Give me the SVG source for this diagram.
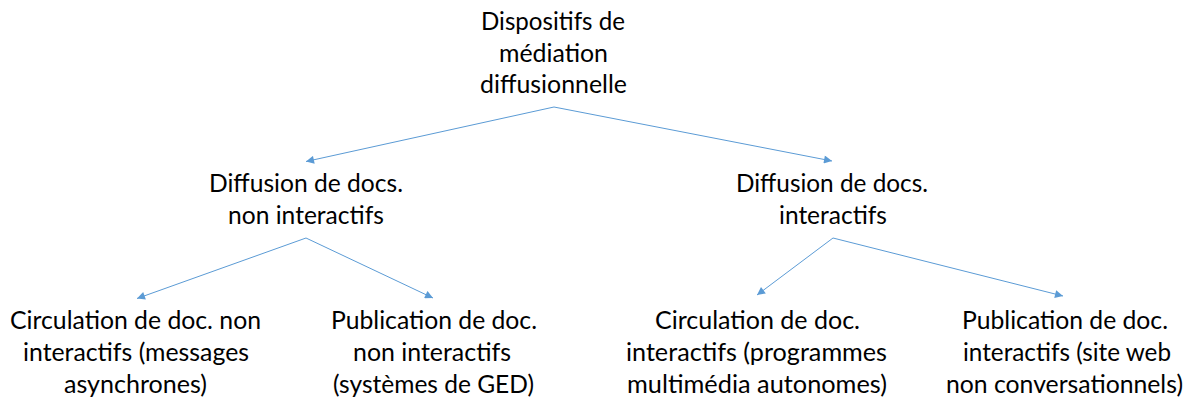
<svg xmlns="http://www.w3.org/2000/svg" width="1190" height="398" viewBox="0 0 1190 398">
<style>
text{font-family:Lato,"Open Sans","Liberation Sans",sans-serif;font-size:25px;fill:#000}
.c{stroke:#5B9BD5;stroke-width:1;fill:none}
</style>
<defs>
<marker id="ah" viewBox="0 0 10 10" refX="10" refY="5" markerWidth="9" markerHeight="8" markerUnits="userSpaceOnUse" orient="auto">
<path d="M0,0 L10,5 L0,10 z" fill="#5B9BD5"/>
</marker>
</defs>
<rect width="1190" height="398" fill="#fff"/>
<g id="connectors">
<line class="c" x1="554" y1="107" x2="306" y2="161.5" marker-end="url(#ah)"/>
<line class="c" x1="554" y1="107" x2="832" y2="161" marker-end="url(#ah)"/>
<line class="c" x1="306" y1="238" x2="137" y2="298.5" marker-end="url(#ah)"/>
<line class="c" x1="306" y1="238" x2="433" y2="298" marker-end="url(#ah)"/>
<line class="c" x1="833" y1="238" x2="757" y2="295" marker-end="url(#ah)"/>
<line class="c" x1="833" y1="238" x2="1063" y2="296" marker-end="url(#ah)"/>
</g>
<g id="root">
<text x="481" y="30" textLength="144" lengthAdjust="spacingAndGlyphs">Dispositifs de</text>
<text x="499" y="62" textLength="109" lengthAdjust="spacingAndGlyphs">médiation</text>
<text x="480" y="93" textLength="147" lengthAdjust="spacingAndGlyphs">diffusionnelle</text>
</g>
<g id="non-interactifs">
<text x="209" y="192" textLength="194" lengthAdjust="spacingAndGlyphs">Diffusion de docs.</text>
<text x="228" y="224" textLength="156" lengthAdjust="spacingAndGlyphs">non interactifs</text>
</g>
<g id="interactifs">
<text x="736" y="192" textLength="192" lengthAdjust="spacingAndGlyphs">Diffusion de docs.</text>
<text x="779" y="224" textLength="108" lengthAdjust="spacingAndGlyphs">interactifs</text>
</g>
<g id="circ-non-interactifs">
<text x="10" y="329" textLength="251" lengthAdjust="spacingAndGlyphs">Circulation de doc. non</text>
<text x="23" y="361" textLength="226" lengthAdjust="spacingAndGlyphs">interactifs (messages</text>
<text x="64" y="393" textLength="143" lengthAdjust="spacingAndGlyphs">asynchrones)</text>
</g>
<g id="pub-non-interactifs">
<text x="331" y="329" textLength="206" lengthAdjust="spacingAndGlyphs">Publication de doc.</text>
<text x="353" y="361" textLength="158" lengthAdjust="spacingAndGlyphs">non interactifs</text>
<text x="333" y="393" textLength="201" lengthAdjust="spacingAndGlyphs">(systèmes de GED)</text>
</g>
<g id="circ-interactifs">
<text x="655" y="329" textLength="205" lengthAdjust="spacingAndGlyphs">Circulation de doc.</text>
<text x="626" y="361" textLength="261" lengthAdjust="spacingAndGlyphs">interactifs (programmes</text>
<text x="627" y="393" textLength="260" lengthAdjust="spacingAndGlyphs">multimédia autonomes)</text>
</g>
<g id="pub-interactifs">
<text x="962" y="329" textLength="206" lengthAdjust="spacingAndGlyphs">Publication de doc.</text>
<text x="963" y="361" textLength="208" lengthAdjust="spacingAndGlyphs">interactifs (site web</text>
<text x="946" y="393" textLength="237" lengthAdjust="spacingAndGlyphs">non conversationnels)</text>
</g>
</svg>
